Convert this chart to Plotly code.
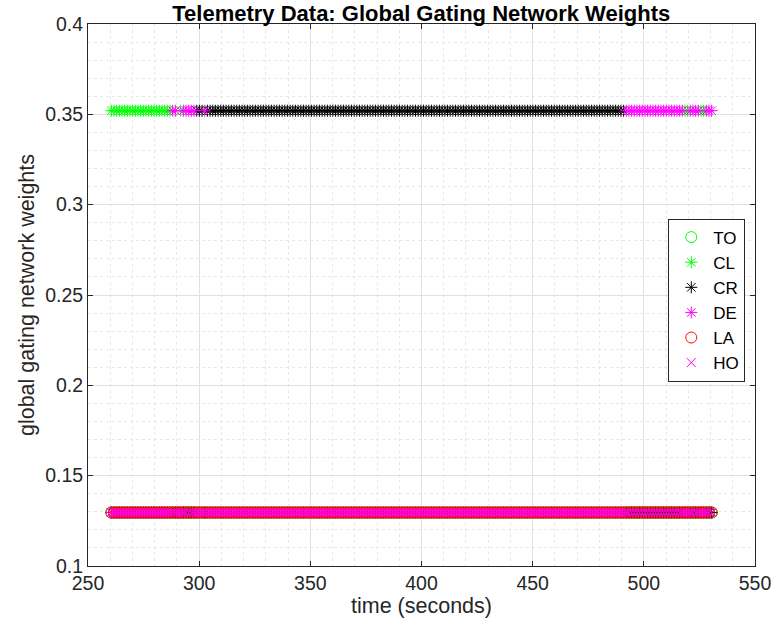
import numpy as np
import plotly.graph_objects as go

# Expert names in plotting order
experts = ["TO", "CL", "CR", "DE", "LA", "HO"]

# Gating weight levels: the winning expert vs. every other expert
w_high = 0.352
w_low = 0.1296

# Telemetry sampling
t_start = 260.5
t_end = 530.5
t_step = 1.2

# Which expert holds the high weight over each time window (seconds)
win_start = [260.0, 287.0, 290.5, 292.0, 298.5, 301.5, 303.0, 492.0, 518.0, 520.0, 525.5, 528.0]
win_end   = [286.9, 290.4, 291.9, 298.4, 301.4, 302.9, 491.9, 517.9, 519.9, 525.4, 527.9, 531.0]
win_name  = ["CL", "DE", "CL", "DE", "CR", "DE", "CR", "DE", "CL", "DE", "CL", "DE"]

# Marker styling per expert
sym = {"TO": "circle-open", "CL": "asterisk-open", "CR": "asterisk-open",
       "DE": "asterisk-open", "LA": "circle-open", "HO": "x-thin-open"}
col = {"TO": "#00ff00", "CL": "#00ff00", "CR": "#000000",
       "DE": "#ff00ff", "LA": "#ff0000", "HO": "#ff00ff"}
msize = {"TO": 11, "CL": 10, "CR": 10, "DE": 10, "LA": 11, "HO": 9}

t = np.arange(t_start, t_end + 1e-9, t_step)
winner = np.empty(t.size, dtype=object)
for s, e, n in zip(win_start, win_end, win_name):
    winner[(t >= s) & (t <= e)] = n

fig = go.Figure()
for i, name in enumerate(experts):
    y = np.where(winner == name, w_high, w_low)
    fig.add_trace(go.Scatter(
        x=t, y=y, mode="markers", name=name, legendgroup=name,
        marker=dict(symbol=sym[name], color=col[name], size=msize[name],
                    line=dict(color=col[name], width=1)),
    ))

font_family = "Liberation Sans, Arial, Helvetica, sans-serif"
axis_common = dict(
    showline=True, linecolor="#262626", linewidth=1, mirror="allticks",
    ticks="inside", ticklen=5, tickcolor="#262626",
    showgrid=True, gridcolor="#e0e0e0", gridwidth=1, zeroline=False,
    tickfont=dict(family=font_family, size=19.5, color="#262626"),
)

fig.update_layout(
    width=783, height=629,
    margin=dict(l=88, r=28, t=24, b=63),
    paper_bgcolor="white", plot_bgcolor="white",
    font=dict(family=font_family, color="#262626"),
    title=dict(text="<b>Telemetry Data: Global Gating Network Weights</b>",
               x=0.538, xanchor="center", yref="container", y=1 - 13 / 629,
               yanchor="middle", font=dict(size=22, color="#000000")),
    xaxis=dict(range=[250, 550], dtick=50,
               title=dict(text="time (seconds)", font=dict(size=21.5), standoff=4),
               minor=dict(dtick=10, showgrid=True, gridcolor="#e8e8e8",
                          griddash="dot", ticks=""),
               **axis_common),
    yaxis=dict(range=[0.1, 0.4], dtick=0.05, tickformat="~g",
               title=dict(text="global gating network weights", font=dict(size=21.5), standoff=4),
               minor=dict(dtick=0.01, showgrid=True, gridcolor="#e8e8e8",
                          griddash="dot", ticks=""),
               **axis_common),
    legend=dict(x=0.87, y=0.641, xanchor="left", yanchor="top",
                bgcolor="white", bordercolor="#262626", borderwidth=1,
                font=dict(size=17, color="#000000"), tracegroupgap=0,
                itemwidth=34),
    showlegend=True,
)

fig.write_html("out.html")
